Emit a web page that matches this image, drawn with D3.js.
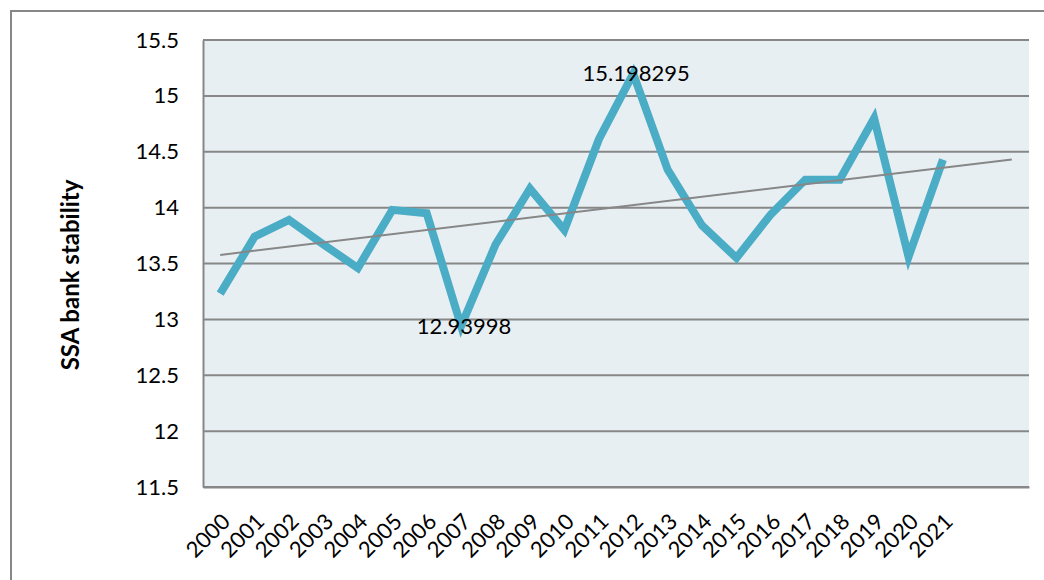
<!DOCTYPE html>
<html>
<head>
<meta charset="utf-8">
<script src="https://cdn.jsdelivr.net/npm/d3@7"></script>
<style>
  body { margin: 0; background: #fff; }
  svg { display: block; }
  text { font-family: Lato, "Open Sans", sans-serif; fill: #000; }
</style>
</head>
<body>
<svg id="chart" width="1044" height="580"></svg>
<script>
// SSA bank stability, 2000-2021
const years = ["2000","2001","2002","2003","2004","2005","2006","2007","2008","2009","2010",
               "2011","2012","2013","2014","2015","2016","2017","2018","2019","2020","2021"];
const stability = [13.23, 13.74, 13.89, 13.67, 13.46, 13.98, 13.95, 12.93998, 13.67, 14.17, 13.80,
                   14.61, 15.198295, 14.34, 13.84, 13.55, 13.94, 14.25, 14.25, 14.80, 13.56, 14.43];
const forecastSlots = 2;           // trend line runs two periods past the data
const yTicks = [11.5, 12, 12.5, 13, 13.5, 14, 14.5, 15, 15.5];
const labelledYears = ["2007", "2012"];
const yTitle = "SSA bank stability";

const svg = d3.select("#chart");
const plot = { left: 203, right: 1029, top: 40, bottom: 487 };

// outer chart frame
svg.append("path")
  .attr("d", "M11,590 L11,11 L1060,11")
  .attr("fill", "none").attr("stroke", "#878787").attr("stroke-width", 2);

const slotIdx = d3.range(years.length + forecastSlots);
const x = d3.scaleBand().domain(slotIdx).range([plot.left, plot.right]);
const cx = i => x(i) + x.bandwidth() / 2;
const y = d3.scaleLinear().domain([11.5, 15.5]).range([plot.bottom, plot.top]);

// plot area
svg.append("rect")
  .attr("x", plot.left).attr("y", plot.top)
  .attr("width", plot.right - plot.left).attr("height", plot.bottom - plot.top)
  .attr("fill", "#e8eff3");

// horizontal gridlines
svg.append("g").selectAll("line").data(yTicks).join("line")
  .attr("x1", plot.left).attr("x2", plot.right)
  .attr("y1", d => y(d)).attr("y2", d => y(d))
  .attr("stroke", "#878787").attr("stroke-width", 2);

// value axis
const yAxis = svg.append("g")
  .attr("transform", `translate(${plot.left},0)`)
  .call(d3.axisLeft(y).tickValues(yTicks).tickSize(0).tickPadding(24).tickFormat(d3.format("")));
yAxis.select(".domain").attr("stroke", "#878787").attr("stroke-width", 2);
yAxis.selectAll("text").style("font-size", "22px").style("font-family", "Lato, sans-serif").attr("fill", "#000");

// category axis
const xAxis = svg.append("g")
  .attr("transform", `translate(0,${plot.bottom})`)
  .call(d3.axisBottom(x).tickSize(0).tickFormat(i => years[i] || ""));
xAxis.select(".domain").attr("stroke", "#878787").attr("stroke-width", 2);
xAxis.selectAll("text")
  .style("font-size", "22px").style("font-family", "Lato, sans-serif").attr("fill", "#000")
  .attr("text-anchor", "end")
  .attr("dy", null).attr("y", 0)
  .attr("transform", `translate(${x.bandwidth() / 2 - 6},36) rotate(-45)`);

// axis title
svg.append("text")
  .attr("transform", "translate(79,275) rotate(-90)")
  .attr("text-anchor", "middle")
  .style("font-size", "24px").style("font-weight", "bold")
  .text(yTitle);

// linear trend (least squares over the observed years)
const xs = d3.range(stability.length);
const mx = d3.mean(xs), my = d3.mean(stability);
const slope = d3.sum(xs, i => (i - mx) * (stability[i] - my)) / d3.sum(xs, i => (i - mx) ** 2);
const intercept = my - slope * mx;
const trendEnds = [0, slotIdx.length - 1];

// data series
svg.append("path")
  .datum(stability)
  .attr("fill", "none")
  .attr("stroke", "#4bacc6").attr("stroke-width", 8)
  .attr("stroke-linejoin", "miter").attr("stroke-linecap", "butt")
  .attr("d", d3.line().x((d, i) => cx(i)).y(d => y(d)));

svg.append("path")
  .datum(trendEnds)
  .attr("fill", "none")
  .attr("stroke", "#878787").attr("stroke-width", 2)
  .attr("d", d3.line().x(i => cx(i)).y(i => y(intercept + slope * i)));

// value labels on the extremes
svg.append("g").selectAll("text")
  .data(years.map((yr, i) => ({ yr, i, v: stability[i] })).filter(d => labelledYears.includes(d.yr)))
  .join("text")
  .attr("x", d => cx(d.i) + 3).attr("y", d => y(d.v) + 2)
  .attr("text-anchor", "middle").attr("dominant-baseline", "middle")
  .style("font-size", "22px")
  .text(d => String(d.v));
</script>
</body>
</html>
